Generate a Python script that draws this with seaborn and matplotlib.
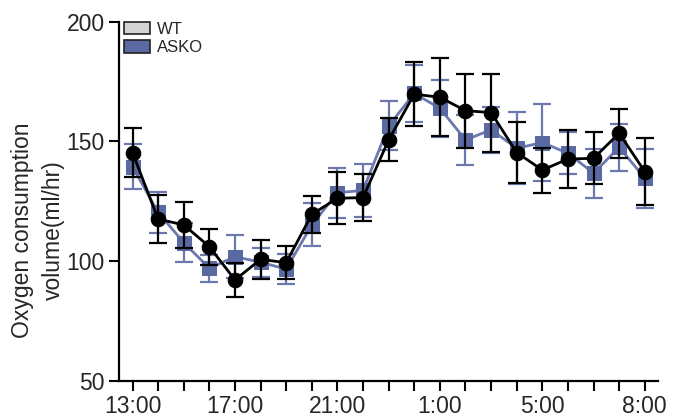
import numpy as np
import pandas as pd
import matplotlib
matplotlib.use("Agg")
import matplotlib.pyplot as plt
from matplotlib.patches import Patch
import seaborn as sns

# ---- data ----
hours = list(range(21))
tick_pos = [0, 4, 8, 12, 16, 20]
tick_labels = ["13:00", "17:00", "21:00", "1:00", "5:00", "8:00"]

wt_mean = [145.3, 117.5, 115.1, 106.0, 92.1, 100.7, 99.3, 119.5, 126.2, 126.5,
           150.6, 169.7, 168.4, 162.8, 162.0, 145.3, 138.0, 142.6, 142.9, 153.4, 137.3]
wt_sem = [10.3, 9.9, 9.5, 7.5, 7.0, 8.2, 6.8, 7.6, 10.9, 9.7,
          9.0, 13.5, 16.2, 15.5, 16.3, 12.8, 9.4, 12.2, 10.8, 10.3, 14.0]

asko_mean = [139.4, 120.3, 107.7, 97.0, 101.8, 99.5, 96.6, 115.1, 128.5, 129.5,
             156.5, 170.0, 163.8, 150.6, 154.8, 147.1, 149.5, 145.0, 136.7, 147.5, 134.6]
asko_sem = [9.4, 8.5, 8.0, 5.6, 9.0, 6.0, 6.2, 9.0, 10.5, 11.0,
            10.3, 12.0, 11.8, 10.5, 9.5, 15.0, 16.0, 8.7, 10.2, 9.9, 12.3]

groups = ["WT", "ASKO"]

df = pd.DataFrame({
    "hour": hours * 2,
    "value": wt_mean + asko_mean,
    "sem": wt_sem + asko_sem,
    "group": ["WT"] * len(hours) + ["ASKO"] * len(hours),
})

# ---- style ----
sns.set_style("ticks")
plt.rcParams["font.family"] = ["Liberation Sans", "DejaVu Sans"]

blue_marker = "#5a69a1"
blue_line = "#6b79ae"
black = "#000000"
text_col = "#262626"

fig = plt.figure(figsize=(6.75, 4.19), dpi=100)
ax = fig.add_axes([0.176, 0.0914, 0.799, 0.857])

# ASKO first (underneath)
d = df[df.group == "ASKO"]
ax.errorbar(d["hour"], d["value"], yerr=d["sem"], fmt="none", ecolor=blue_line,
            elinewidth=1.6, capsize=6.5, capthick=1.6, zorder=2)
sns.lineplot(data=d, x="hour", y="value", ax=ax, color=blue_line, lw=2,
             marker="s", markersize=9.5, markerfacecolor=blue_marker,
             markeredgecolor=blue_marker, zorder=3, legend=False)

d = df[df.group == "WT"]
ax.errorbar(d["hour"], d["value"], yerr=d["sem"], fmt="none", ecolor=black,
            elinewidth=1.6, capsize=6.5, capthick=1.6, zorder=4)
sns.lineplot(data=d, x="hour", y="value", ax=ax, color=black, lw=2,
             marker="o", markersize=10.5, markerfacecolor=black,
             markeredgecolor=black, zorder=5, legend=False)

ax.set_xlim(-0.535, 20.52)
ax.set_ylim(50, 200)
ax.set_yticks([50, 100, 150, 200])
ax.set_xticks(hours, minor=True)
ax.set_xticks(tick_pos)
ax.set_xticklabels(tick_labels)
ax.tick_params(axis="both", which="both", direction="out", width=1.5,
               length=7, labelsize=16.5, colors="black", labelcolor=text_col,
               pad=3)
ax.set_xlabel("")
ax.set_ylabel("Oxygen consumption\nvolume(ml/hr)", fontsize=16.5, color=text_col,
              linespacing=1.45, labelpad=4, multialignment="center")
ax.yaxis.set_label_coords(-0.1, 0.42)
for s in ["top", "right"]:
    ax.spines[s].set_visible(False)
for s in ["left", "bottom"]:
    ax.spines[s].set_linewidth(1.6)
    ax.spines[s].set_color("black")

handles = [Patch(facecolor="#d4d4d4", edgecolor="#222222", lw=1.2),
           Patch(facecolor=blue_marker, edgecolor="#222222", lw=1.2)]
ax.legend(handles, groups, loc="upper left", bbox_to_anchor=(0.009, 1.0),
          frameon=False, fontsize=12, handlelength=1.6, handleheight=0.8,
          handletextpad=0.4, labelspacing=0.2, borderpad=0, borderaxespad=0,
          labelcolor=text_col)

fig.savefig("out.png", dpi=100)
